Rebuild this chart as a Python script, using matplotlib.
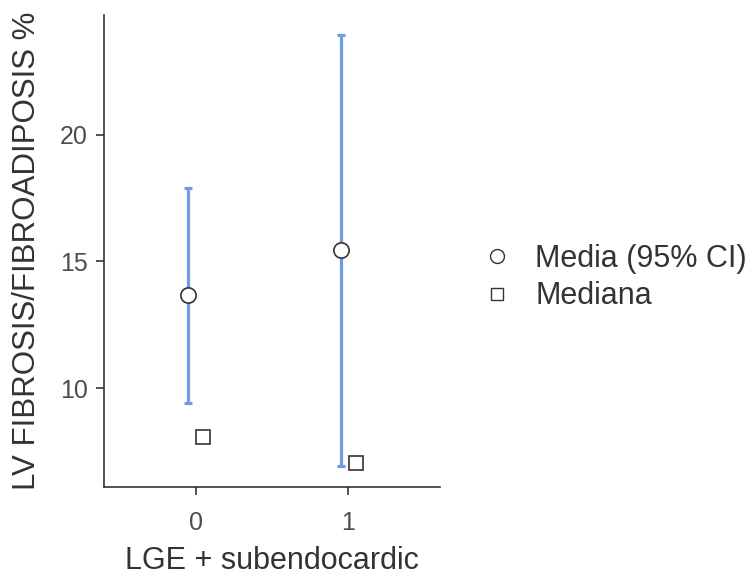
import matplotlib.pyplot as plt
from matplotlib.lines import Line2D

plt.rcParams["font.family"] = ["Liberation Sans", "DejaVu Sans"]

groups = [0, 1]
tick_labels = ["0", "1"]
means = [13.66, 15.47]
ci_low = [9.41, 6.92]
ci_high = [17.9, 23.95]
medians = [8.06, 7.04]

fig = plt.figure(figsize=(7.55, 5.76), dpi=100)
ax = fig.add_axes([0.1377, 0.1545, 0.4451, 0.8195])

offset = 0.05
xm = [g - offset for g in groups]
xmed = [g + offset for g in groups]
lower = [m - lo for m, lo in zip(means, ci_low)]
upper = [hi - m for m, hi in zip(means, ci_high)]

ax.errorbar(xm, means, yerr=[lower, upper], fmt="none", ecolor="#6f9ce6",
            elinewidth=2.3, capsize=3, capthick=2.3, zorder=2)
ax.plot(xm, means, "o", ms=11, mfc="white", mec="#333333", mew=1.2, zorder=3)
ax.plot(xmed, medians, "s", ms=9.5, mfc="white", mec="#333333", mew=1.2, zorder=3)

ax.set_xlim(-0.6, 1.6)
ax.set_ylim(6.09, 24.74)
ax.set_xticks(groups)
ax.set_xticklabels(tick_labels)
ax.set_yticks([10, 15, 20])
for s in ["top", "right"]:
    ax.spines[s].set_visible(False)
for s in ["left", "bottom"]:
    ax.spines[s].set_linewidth(1.2)
    ax.spines[s].set_color("#333333")
ax.tick_params(labelsize=18, colors="#333333", labelcolor="#4d4d4d", length=5.5, width=1.2)
ax.tick_params(axis="y", pad=6)
ax.tick_params(axis="x", pad=12)

ax.set_xlabel("LGE + subendocardic", fontsize=22, color="#333333", labelpad=8)
ax.set_ylabel("LV FIBROSIS/FIBROADIPOSIS %", fontsize=22.5, color="#333333", labelpad=13)

handles = [
    Line2D([], [], ls="none", marker="o", ms=10, mfc="white", mec="#333333", mew=1.0),
    Line2D([], [], ls="none", marker="s", ms=8.5, mfc="white", mec="#333333", mew=1.0),
]
fig.legend(handles, ["Media (95% CI)", "Mediana"], loc="center left",
           bbox_to_anchor=(0.638, 0.518), frameon=False, fontsize=22,
           handletextpad=0.75, labelspacing=0.25, handlelength=1.0,
           borderaxespad=0, borderpad=0, labelcolor="#333333")

fig.savefig("out.png", dpi=100)
